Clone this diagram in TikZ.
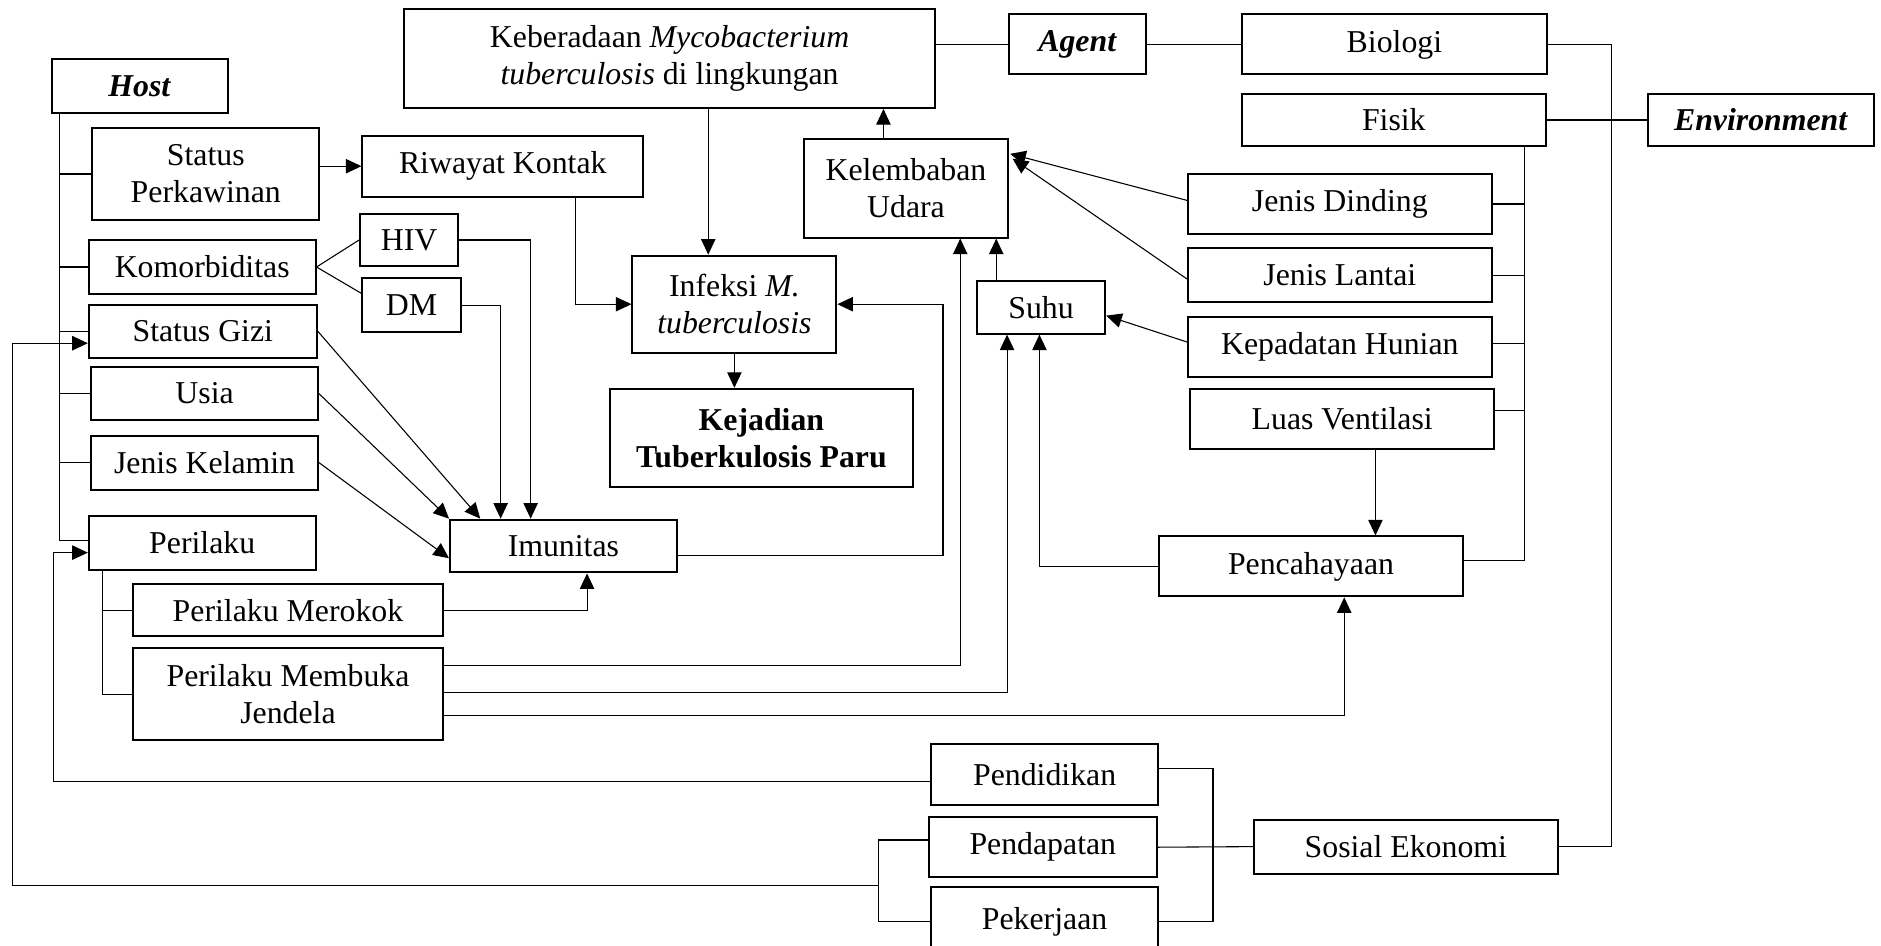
\documentclass[tikz,border=0pt]{standalone}
\usepackage{fontspec}
\setmainfont{Liberation Serif}
\usetikzlibrary{arrows.meta,calc}
\tikzset{
  box/.style={draw, line width=0.8pt, inner sep=0pt, align=center,
    font=\fontsize{13.25}{15.5}\selectfont},
  conn/.style={line width=0.45pt},
  arr/.style={line width=0.45pt, -{Triangle[length=6.5pt,width=6pt]}}
}
\newcommand\bx[7]{\node[box,#1,minimum width={(#5-#3)*0.5pt},minimum height={(#6-#4)*0.5pt}] (#2) at ({(#3+#5)/2},{(#4+#6)/2}) {#7};}
\begin{document}
\begin{tikzpicture}[x=0.5pt,y=-0.5pt]
\useasboundingbox (0,0) rectangle (1567.5,788.3);
% nodes
\bx{}{host}{43}{49}{190}{94}{\textbf{\textit{Host}}}
\bx{}{keb}{337}{7.5}{779}{90}{Keberadaan \textit{Mycobacterium}\\\textit{tuberculosis} di lingkungan}
\bx{}{agent}{841}{12}{955}{62}{\textbf{\textit{Agent}}}
\bx{}{bio}{1035}{12}{1289}{62}{Biologi}
\bx{}{fisik}{1035}{78}{1288}{122}{Fisik}
\bx{}{env}{1373}{78}{1562}{122}{\textbf{\textit{Environment}}}
\bx{}{sp}{77}{107}{266}{183}{Status\\Perkawinan}
\bx{}{rk}{302}{113}{536}{164}{Riwayat Kontak}
\bx{}{kel}{670}{116}{840}{198}{Kelembaban\\Udara}
\bx{}{jd}{990}{145}{1243}{195}{Jenis Dinding}
\bx{}{jl}{990}{207}{1243}{252}{Jenis Lantai}
\bx{}{hiv}{300}{178}{382}{222}{HIV}
\bx{}{kom}{74}{200}{263}{245}{Komorbiditas}
\bx{}{dm}{302}{232}{384}{277}{DM}
\bx{}{inf}{527}{213}{697}{294}{Infeksi \textit{M.}\\\textit{tuberculosis}}
\bx{}{suhu}{814}{234}{921}{278}{Suhu}
\bx{}{kh}{990}{264}{1243}{314}{Kepadatan Hunian}
\bx{}{sg}{74}{254}{264}{298}{Status Gizi}
\bx{}{kej}{508}{324}{761}{406}{\textbf{Kejadian}\\\textbf{Tuberkulosis Paru}}
\bx{}{usia}{76}{306}{265}{350}{Usia}
\bx{}{lv}{992}{324}{1245}{374}{Luas Ventilasi}
\bx{}{jk}{76}{363}{265}{408}{Jenis Kelamin}
\bx{}{imu}{375}{433}{564}{477}{Imunitas}
\bx{}{per}{74}{430}{263}{475}{Perilaku}
\bx{}{pen}{966}{447}{1219}{497}{Pencahayaan}
\bx{}{pm}{111}{487}{369}{530}{Perilaku Merokok}
\bx{}{pmj}{111}{540}{369}{617}{Perilaku Membuka\\Jendela}
\bx{}{pdd}{776}{620}{965}{671}{Pendidikan}
\bx{}{pdp}{774}{681}{964}{731}{Pendapatan}
\bx{}{se}{1045}{683}{1298}{728}{Sosial Ekonomi}
\bx{}{pek}{776}{739}{965}{800}{}
\node[font=\fontsize{13.25}{15.5}\selectfont, inner sep=0pt] (pekt) at ($(pek.north)+(0,30)$) {Pekerjaan};

% host bus
\coordinate (hb) at ($(host.south west)+(7,0)$);
\draw[conn] (hb) |- ($(per.west)+(0,-2)$);
\draw[conn] (hb |- sp.west) -- (sp.west);
\draw[conn] (hb |- kom.west) -- (kom.west);
\draw[conn] (hb |- sg.west) -- (sg.west);
\draw[conn] (hb |- usia.west) -- (usia.west);
\draw[conn] (hb |- jk.west) -- (jk.west);

% host internal
\draw[arr] (sp.east |- rk.west) -- (rk.west);
\draw[conn] (kom.east) -- (hiv.west);
\draw[conn] (kom.east) -- ($(dm.west)+(0,-10)$);
\draw[arr] (hiv.east) -| ($(imu.north west)+(68,0)$);
\draw[arr] (dm.east) -| ($(imu.north west)+(43,0)$);
\draw[arr] (sg.east) -- ($(imu.north west)+(26,0)$);
\draw[arr] (usia.east) -- (imu.north west);
\draw[arr] (jk.east) -- ($(imu.north west)+(0,33)$);
\draw[arr] ($(rk.south west)+(178,0)$) |- (inf.west);
\draw[arr] (pm.east) -| ($(imu.south west)+(115,0)$);
\draw[arr] ($(imu.east)+(0,8)$) -| ($(inf.east)+(88,0)$) -- (inf.east);

% perilaku sub bus
\coordinate (pb) at ($(per.south west)+(12,0)$);
\draw[conn] (pb) |- (pmj.west);
\draw[conn] (pm.west) -- (pm.west -| pb);

% agent
\coordinate (a1) at ($(inf.north west)+(64,0)$);
\draw[arr] (a1 |- keb.south) -- (a1);
\draw[arr] (inf.south) -- (inf.south |- kej.north);
\coordinate (a2) at ($(kel.north west)+(67,0)$);
\draw[arr] (a2) -- (a2 |- keb.south);
\draw[conn] (keb.east |- agent.west) -- (agent.west);
\draw[conn] (agent.east) -- (bio.west);

% environment
\draw[conn] (bio.east) -- ++(53,0) |- (se.east);
\draw[conn] (fisik.east) -- (env.west);
\coordinate (fb) at ($(fisik.south west)+(236,0)$);
\coordinate (khb) at ($(kh.east)+(0,-3)$);
\coordinate (lvb) at ($(lv.east)+(0,-7)$);
\draw[conn] (fb) |- ($(pen.east)+(0,-5)$);
\draw[conn] (jd.east) -- (jd.east -| fb);
\draw[conn] (jl.east) -- (jl.east -| fb);
\draw[conn] (khb) -- (khb -| fb);
\draw[conn] (lvb) -- (lvb -| fb);
\draw[arr] ($(jd.west)+(0,-3)$) -- ($(kel.north east)+(1,13)$);
\draw[arr] ($(jl.west)+(0,3)$) -- ($(kel.north east)+(3,17)$);
\draw[arr] ($(kh.west)+(0,-4)$) -- ($(suhu.east)+(0,7)$);
\coordinate (a4) at ($(suhu.north west)+(17,0)$);
\draw[arr] (a4) -- (a4 |- kel.south);
\coordinate (a3) at ($(lv.south west)+(155,0)$);
\draw[arr] (a3) -- (a3 |- pen.north);
\draw[arr] (pen.west) -| ($(suhu.south west)+(53,0)$);

% perilaku membuka jendela
\draw[arr] ($(pmj.north east)+(0,15)$) -| ($(kel.south west)+(131,0)$);
\draw[arr] ($(pmj.north east)+(0,38)$) -| ($(suhu.south west)+(26,0)$);
\draw[arr] ($(pmj.north east)+(0,57)$) -| ($(pen.south west)+(155,0)$);

% sosial ekonomi
\draw[arr] ($(pdd.west)+(0,6)$) -| ($(per.west)+(-29,8)$) -- ($(per.west)+(0,8)$);
\coordinate (lb) at ($(pdp.west)+(-41,0)$);
\draw[conn] ($(pdp.west)+(0,-6)$) -| (lb |- pekt) -- (pekt -| pek.west);
\draw[arr] ($(pek.north west)+(-43,0)$) -| ($(sg.west)+(-63,10)$) -- ($(sg.west)+(0,10)$);
\coordinate (rb) at ($(pdd.east)+(45,-5)$);
\draw[conn] ($(pdd.east)+(0,-5)$) -- (rb) -- (rb |- pekt) -- (pekt -| pek.east);
\draw[conn] (pdp.east) -- (se.west);
\end{tikzpicture}
\end{document}
